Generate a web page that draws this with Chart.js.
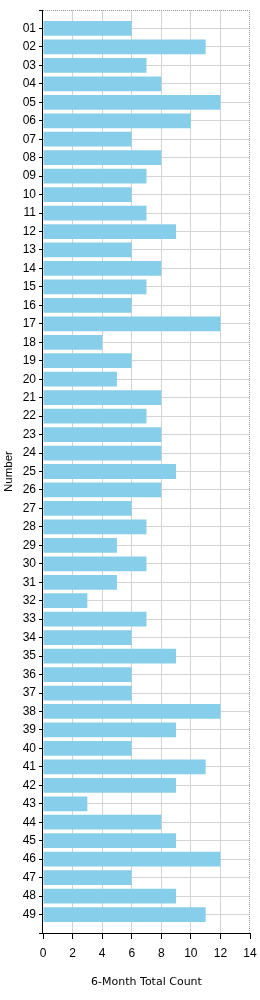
<!DOCTYPE html>
<html><head><meta charset="utf-8">
<script src="https://cdn.jsdelivr.net/npm/chart.js@4/dist/chart.umd.min.js"></script>
<style>html,body{margin:0;padding:0;background:#fff}canvas{display:block}</style>
</head>
<body><canvas id="c" width="260" height="1000"></canvas>
<script>
const categories = ['01','02','03','04','05','06','07','08','09','10','11','12','13','14','15','16','17','18','19','20','21','22','23','24','25','26','27','28','29','30','31','32','33','34','35','36','37','38','39','40','41','42','43','44','45','46','47','48','49'];
const counts = [6,11,7,8,12,10,6,8,7,6,7,9,6,8,7,6,12,4,6,5,8,7,8,8,9,8,6,7,5,7,5,3,7,6,9,6,6,12,9,6,11,9,3,8,9,12,6,9,11];
const xMin = 0, xMax = 14, xStep = 2;
const xTitle = '6-Month Total Count';
const yTitle = 'Number';

const framePlugin = {
  id: 'frame',
  afterDatasetsDraw(chart) {
    const {ctx, chartArea: {left, right, top, bottom}} = chart;
    ctx.save();
    ctx.lineWidth = 1;
    ctx.strokeStyle = '#999';
    ctx.setLineDash([1, 1]);
    ctx.beginPath();
    ctx.moveTo(left, Math.round(top) + 0.5);
    ctx.lineTo(right, Math.round(top) + 0.5);
    ctx.moveTo(Math.round(right) - 0.5, top);
    ctx.lineTo(Math.round(right) - 0.5, bottom);
    ctx.stroke();
    ctx.setLineDash([]);
    ctx.strokeStyle = '#000';
    ctx.beginPath();
    ctx.moveTo(Math.round(left) - 0.5, top);
    ctx.lineTo(Math.round(left) - 0.5, Math.round(bottom) + 0.5);
    ctx.lineTo(right, Math.round(bottom) + 0.5);
    ctx.stroke();
    ctx.restore();
  }
};

new Chart(document.getElementById('c'), {
  type: 'bar',
  data: {
    datasets: [{
      data: counts.map((v, i) => ({x: v, y: i + 1})),
      backgroundColor: '#87CEEB',
      borderWidth: 0,
      barPercentage: 0.8,
      categoryPercentage: 1
    }]
  },
  options: {
    indexAxis: 'y',
    responsive: false,
    devicePixelRatio: 1,
    animation: false,
    layout: {padding: {top: 10, right: 10, left: 0, bottom: 0}},
    plugins: {legend: {display: false}, tooltip: {enabled: false}},
    scales: {
      y: {
        type: 'linear',
        reverse: true,
        offset: false,
        min: 0,
        max: categories.length + 1,
        afterFit(s) { s.width = 43; s.paddingTop = 0; s.paddingBottom = 0; },
        ticks: {
          stepSize: 1,
          autoSkip: false,
          maxTicksLimit: 200,
          padding: 3,
          color: '#000',
          font: {family: '"Liberation Sans", Arial, sans-serif', size: 12},
          callback: v => categories[v - 1] || ''
        },
        grid: {
          offset: false,
          color: c => (c.tick && (c.tick.value === 0 || c.tick.value === categories.length + 1)) ? 'rgba(0,0,0,0)' : '#d3d3d3',
          tickColor: '#000',
          tickLength: 4
        },
        border: {display: false},
        title: {
          display: true, text: yTitle, color: '#000',
          font: {family: '"Liberation Sans", Arial, sans-serif', size: 11.5},
          padding: {top: 2, bottom: 0}
        }
      },
      x: {
        type: 'linear',
        position: 'bottom',
        min: xMin,
        max: xMax,
        afterFit(s) { s.height = 67; s.paddingLeft = 0; s.paddingRight = 0; },
        ticks: {
          stepSize: xStep,
          padding: 7,
          color: '#000',
          font: {family: '"Liberation Sans", Arial, sans-serif', size: 12}
        },
        grid: {
          color: c => (c.tick && (c.tick.value === xMax || c.tick.value === xMin)) ? 'rgba(0,0,0,0)' : '#d3d3d3',
          tickColor: '#000',
          tickLength: 6
        },
        border: {display: false},
        title: {
          display: true, text: xTitle, color: '#000',
          font: {family: '"DejaVu Sans", Verdana, sans-serif', size: 11},
          padding: {top: 0, bottom: 11}
        }
      }
    }
  },
  plugins: [framePlugin]
});
</script>
</body></html>
